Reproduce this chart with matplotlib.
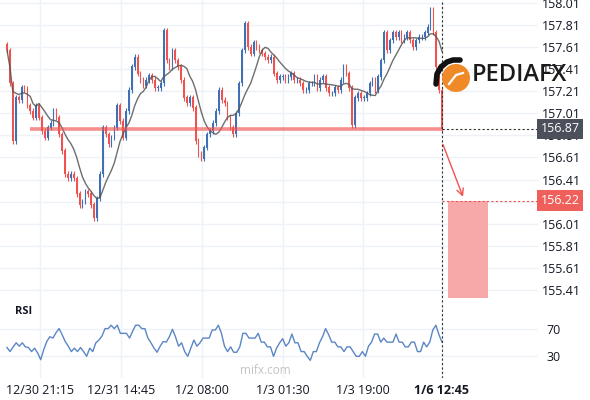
import numpy as np
import pandas as pd
import matplotlib
matplotlib.use('Agg')
import matplotlib.pyplot as plt
from matplotlib.patches import Rectangle, Circle
from matplotlib.lines import Line2D
from matplotlib.transforms import blended_transform_factory, Affine2D

plt.rcParams['font.family'] = ['Open Sans', 'DejaVu Sans']

# closing prices, left to right
closes = [157.58, 157.28, 156.76, 157.15, 157.13, 157.24, 157.23, 157.08, 157.03, 156.97,
          157.08, 156.97, 156.85, 156.79, 156.88, 156.92, 157.03, 156.97, 156.82, 156.67,
          156.46, 156.42, 156.46, 156.42, 156.28, 156.18, 156.21, 156.30, 156.28, 156.18,
          156.06, 156.24, 156.46, 156.88, 156.82, 156.73, 156.79, 156.88, 157.08, 156.94,
          156.79, 157.03, 157.22, 157.43, 157.52, 157.37, 157.31, 157.26, 157.31, 157.35,
          157.31, 157.24, 157.24, 157.28, 157.76, 157.49, 157.43, 157.58, 157.49, 157.43,
          157.31, 157.15, 157.10, 157.15, 157.06, 156.76, 156.64, 156.60, 156.70, 156.82,
          156.85, 156.92, 157.03, 157.22, 157.13, 157.10, 156.97, 156.88, 156.82, 157.01,
          157.28, 157.58, 157.82, 157.61, 157.55, 157.65, 157.61, 157.58, 157.55, 157.52,
          157.49, 157.52, 157.37, 157.31, 157.34, 157.34, 157.31, 157.34, 157.37, 157.31,
          157.31, 157.28, 157.22, 157.22, 157.28, 157.28, 157.34, 157.24, 157.31, 157.34,
          157.24, 157.19, 157.19, 157.24, 157.22, 157.31, 157.43, 157.37, 157.24, 156.90,
          157.15, 157.19, 157.15, 157.15, 157.19, 157.28, 157.31, 157.22, 157.34, 157.49,
          157.74, 157.58, 157.67, 157.74, 157.70, 157.74, 157.67, 157.70, 157.74, 157.67,
          157.61, 157.67, 157.70, 157.70, 157.74, 157.79, 157.95, 157.74, 157.43, 157.22,
          156.87]
first_open = 157.63

rsi = [43, 37, 44, 50, 45, 50, 44, 43, 37, 42, 35, 25, 40, 52, 59, 57, 65, 71, 62, 52,
       45, 37, 42, 37, 43, 37, 30, 42, 37, 50, 54, 60, 71, 71, 76, 71, 76, 64, 64, 64,
       57, 67, 76, 76, 71, 71, 57, 50, 42, 36, 45, 52, 51, 59, 70, 59, 45, 50, 37, 30,
       42, 54, 45, 50, 57, 57, 57, 69, 69, 76,
       64, 45, 37, 44, 36, 36, 44, 64, 64, 57, 57, 57, 64, 51, 51, 44, 44, 30, 42, 50,
       56, 45, 50, 63, 50, 50, 37, 37, 30, 24, 37, 37, 50, 59, 71, 62, 51, 51, 44, 44,
       37, 44, 44, 37, 30, 30, 37, 30, 45, 51, 63, 63, 51, 57, 51, 51, 51, 63, 51, 51,
       44, 44, 51, 51, 37, 37, 51, 44, 51, 69, 76, 62, 51]

price_ticks = [158.01, 157.81, 157.61, 157.41, 157.21, 157.01, 156.81, 156.61,
               156.41, 156.21, 156.01, 155.81, 155.61, 155.41]
price_tick_labels = ['158.01', '157.81', '157.61', '157.41', '157.21', '157.01', '156.81',
                     '156.61', '156.41', '', '156.01', '155.81', '155.61', '155.41']
rsi_ticks = [70, 30]
time_labels = ['12/30 21:15', '12/31 14:45', '1/2 08:00', '1/3 01:30', '1/3 19:00', '1/6 12:45']
time_frac = [0.076, 0.262, 0.448, 0.634, 0.818, 1.0]

level = 156.87
target = 156.22
zone_bottom = 155.34
arrow_start = 156.75

RED = '#ef5350'
BLUE = '#3f6fb5'
GRID = '#eef1f6'
TXT = '#131722'

n = len(closes)
x = np.arange(n)
c = np.array(closes)
o = np.r_[first_open, c[:-1]]
hi = np.maximum(o, c) + 0.025
lo = np.minimum(o, c) - 0.025
up = c >= o
ma = pd.Series(c).rolling(9, min_periods=1).mean()

step = 435 / (n - 1)          # pixels per bar
xl = (-7 / step, (538 - 7) / step)
last = n - 1

fig = plt.figure(figsize=(5.9, 4), dpi=100)
ax = fig.add_axes([0, 1 - 302 / 400, 538 / 590, 302 / 400])
ar = fig.add_axes([0, 1 - 378 / 400, 538 / 590, 76 / 400])

for a in (ax, ar):
    for s in a.spines.values():
        s.set_visible(False)
    a.set_xlim(*xl)

# candles
cols = np.where(up, BLUE, RED)
ax.vlines(x, lo, hi, colors=cols, lw=0.8, zorder=3)
ax.bar(x, np.abs(c - o) + 0.004, bottom=np.minimum(o, c), width=0.55, color=cols, zorder=3)
ax.plot(x, ma, color='#555555', lw=1.0, alpha=0.85, zorder=4)

# support level and projection
ax.hlines(level, 8, last, color=RED, lw=2.6, alpha=0.65, zorder=5)
ax.hlines(level, last, xl[1], color='#333333', lw=0.8, ls=(0, (2, 2)), zorder=5)
ax.hlines(target, last, xl[1], color=RED, lw=0.8, ls=(0, (2, 2)), zorder=5)
ax.add_patch(Rectangle((last + 2, zone_bottom), 13.7, target - zone_bottom,
                       fc='#f7a9a9', ec='none', zorder=2))
ax.annotate('', xy=(last + 7.6, target + 0.01), xytext=(last, arrow_start),
            arrowprops=dict(arrowstyle='->', color=RED, lw=1, mutation_scale=12),
            zorder=6)

ax.set_ylim(155.301, 158.036)
ax.set_yticks(price_ticks)
ax.set_yticklabels(price_tick_labels)
ax.yaxis.tick_right()
ax.tick_params(axis='y', length=0, pad=3, labelsize=9, labelcolor=TXT)
ax.set_xticks([f * last for f in time_frac])
ax.tick_params(axis='x', length=0, labelbottom=False)
ax.grid(True, color=GRID, lw=1)
ax.set_axisbelow(True)
ax.axvline(last, color='#333333', lw=0.8, ls=(0, (2, 2)), zorder=6)

tr = blended_transform_factory(ax.transAxes, ax.transData)
ax.text(1.005, level, '156.87', transform=tr, ha='left', va='center', fontsize=9,
        color='white', zorder=10, clip_on=False,
        bbox=dict(boxstyle='square,pad=0.3', fc='#4b505b', ec='none'))
ax.text(1.005, target, '156.22', transform=tr, ha='left', va='center', fontsize=9,
        color='white', zorder=10, clip_on=False,
        bbox=dict(boxstyle='square,pad=0.3', fc='#ef5f5c', ec='none'))

# RSI panel
xr = np.linspace(0, last, len(rsi))
ar.plot(xr, rsi, color='#5b86c5', lw=1)
ar.set_ylim(-2.1, 110.4)
ar.set_yticks(rsi_ticks)
ar.yaxis.tick_right()
ar.tick_params(axis='y', length=0, pad=6, labelsize=9, labelcolor=TXT)
ar.set_xticks([f * last for f in time_frac])
ar.set_xticklabels(time_labels)
ar.tick_params(axis='x', length=0, pad=4, labelsize=9, labelcolor=TXT)
ar.get_xticklabels()[-1].set_fontweight('bold')
ar.grid(True, color=GRID, lw=1)
ar.set_axisbelow(True)
ar.axvline(last, color='#333333', lw=0.8, ls=(0, (2, 2)), zorder=6)
ar.text(15 / 538, 0.88, 'RSI', transform=ar.transAxes, fontsize=8, fontweight='bold',
        color=TXT, va='center')
ar.text(265 / 538, 0.1, 'mifx.com', transform=ar.transAxes, fontsize=8.5,
        color='#c4c4c4', ha='center', va='center')

# logo, drawn straight on the figure in pixel units (y pointing down)
px = Affine2D().scale(1 / 590, -1 / 400).translate(0, 1) + fig.transFigure
fig.add_artist(Circle((456, 78), 14, fc='#f08a28', ec='none', transform=px, zorder=20))
fig.add_artist(Line2D([449, 456, 463], [84, 75, 73], color='white', lw=1.6,
                      transform=px, zorder=21))
fig.add_artist(Line2D([436, 437, 441, 447, 453, 460], [84, 74, 67, 62, 60, 60],
                      color='#111111', lw=4, solid_capstyle='round',
                      transform=px, zorder=22))
fig.text(472 / 590, 1 - 75 / 400, 'PEDIAFX', fontsize=17, fontweight='semibold',
         color='#1a1a1a', va='center', ha='left', zorder=23)

fig.savefig('out.png', dpi=100)
